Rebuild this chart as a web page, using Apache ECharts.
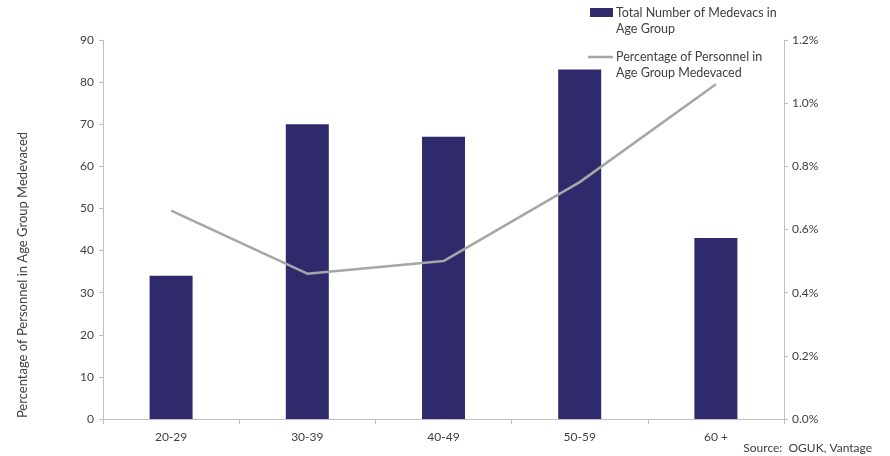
<!DOCTYPE html>
<html>
<head>
<meta charset="utf-8">
<script src="https://cdn.jsdelivr.net/npm/echarts@6/dist/echarts.min.js"></script>
<style>
  html, body { margin: 0; padding: 0; background: #fff; }
  #chart { width: 890px; height: 456px; }
</style>
</head>
<body>
<div id="chart"></div>
<script>
// Age groups and the two measures plotted against them
const ageGroups = ['20-29', '30-39', '40-49', '50-59', '60 +'];
const medevacCounts = [34, 70, 67, 83, 43];
const medevacShare = [0.66, 0.46, 0.50, 0.75, 1.06]; // percent of personnel in group

const countTicks = { min: 0, max: 90, interval: 10 };
const shareTicks = { min: 0, max: 1.2, interval: 0.2 };

const barColor = '#2F2A6C';
const lineColor = '#A6A6A6';
const axisColor = '#BFBFBF';
const textColor = '#404040';
const font = 'Lato, "Open Sans", sans-serif';

const chart = echarts.init(document.getElementById('chart'));

chart.setOption({
  animation: false,
  textStyle: { fontFamily: font },
  grid: { left: 103, right: 106, top: 40, bottom: 37, containLabel: false },
  xAxis: {
    type: 'category',
    data: ageGroups,
    axisLine: { lineStyle: { color: axisColor, width: 1 } },
    axisTick: { show: true, length: 5, lineStyle: { color: axisColor } },
    axisLabel: { color: textColor, fontSize: 12, margin: 12, fontFamily: font }
  },
  yAxis: [
    {
      type: 'value',
      min: countTicks.min, max: countTicks.max, interval: countTicks.interval,
      splitLine: { show: false },
      axisLine: { show: true, lineStyle: { color: axisColor } },
      axisTick: { show: true, length: 4, lineStyle: { color: axisColor } },
      axisLabel: { color: textColor, fontSize: 12, margin: 9, fontFamily: font }
    },
    {
      type: 'value',
      min: shareTicks.min, max: shareTicks.max, interval: shareTicks.interval,
      position: 'right',
      splitLine: { show: false },
      axisLine: { show: true, lineStyle: { color: axisColor } },
      axisTick: { show: true, length: 4, lineStyle: { color: axisColor } },
      axisLabel: {
        color: textColor, fontSize: 12, margin: 8, fontFamily: font,
        formatter: v => v.toFixed(1) + '%'
      }
    }
  ],
  series: [
    {
      name: 'Total Number of Medevacs in Age Group',
      type: 'bar',
      data: medevacCounts,
      yAxisIndex: 0,
      barWidth: 43,
      itemStyle: { color: barColor }
    },
    {
      name: 'Percentage of Personnel in Age Group Medevaced',
      type: 'line',
      data: medevacShare,
      yAxisIndex: 1,
      symbol: 'none',
      lineStyle: { color: lineColor, width: 2.5 },
      z: 3
    }
  ],
  graphic: [
    // axis title on the left
    {
      type: 'text',
      x: 23, y: 275,
      rotation: Math.PI / 2,
      style: {
        text: 'Percentage of Personnel in Age Group Medevaced',
        fill: textColor, font: '13px ' + font,
        align: 'center', verticalAlign: 'middle'
      }
    },
    // legend entries
    { type: 'rect', shape: { x: 590, y: 8, width: 23, height: 9 }, style: { fill: barColor } },
    {
      type: 'text', x: 616, y: 5,
      style: {
        text: 'Total Number of Medevacs in\nAge Group',
        fill: textColor, font: '12.5px ' + font, lineHeight: 16
      }
    },
    { type: 'line', shape: { x1: 588, y1: 57, x2: 613, y2: 57 }, style: { stroke: lineColor, lineWidth: 2.5 } },
    {
      type: 'text', x: 616, y: 49,
      style: {
        text: 'Percentage of Personnel in\nAge Group Medevaced',
        fill: textColor, font: '12.5px ' + font, lineHeight: 16
      }
    },
    // source note
    {
      type: 'text', right: 18, top: 442,
      style: { text: 'Source:  OGUK, Vantage', fill: textColor, font: '12px ' + font }
    }
  ]
});
</script>
</body>
</html>
